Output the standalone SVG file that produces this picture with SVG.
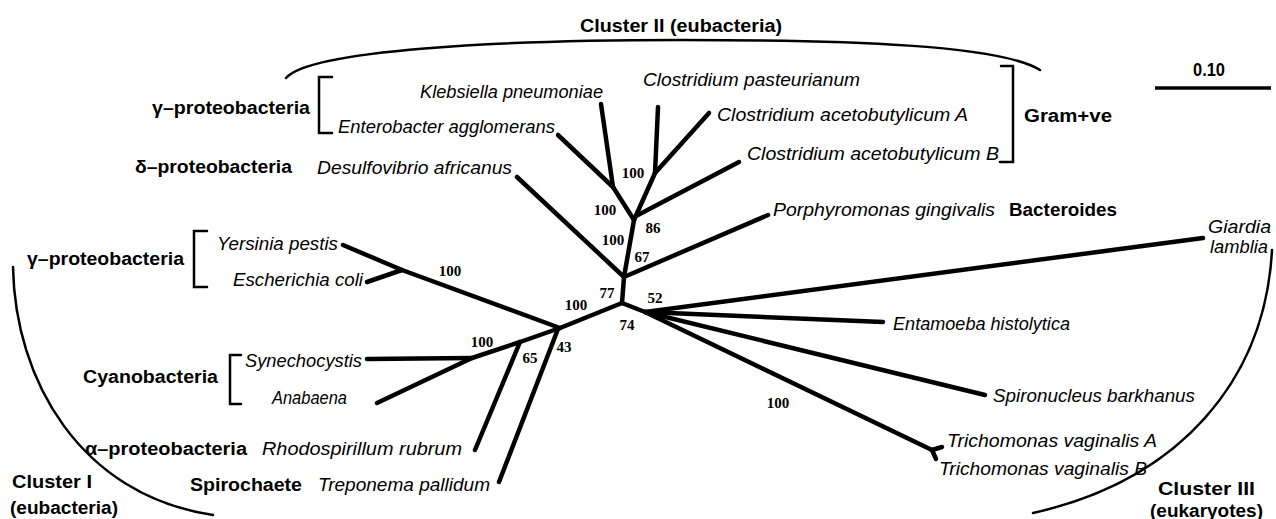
<svg xmlns="http://www.w3.org/2000/svg" width="1276" height="519" viewBox="0 0 1276 519">
<style>
.bg{fill:#ffffff}
.br{stroke:#000;stroke-width:4.5;stroke-linecap:round;fill:none}
.thin{stroke:#000;stroke-width:2.5;fill:none;stroke-linecap:round}
.sp{font-family:"Liberation Sans",Arial,sans-serif;font-style:italic;font-size:18px;fill:#000}
.grp{font-family:"Liberation Sans",Arial,sans-serif;font-weight:bold;font-size:18px;fill:#000}
.bs{font-family:"Liberation Serif","Times New Roman",serif;font-weight:bold;font-size:15px;fill:#000;text-anchor:middle}
</style>
<rect class="bg" x="0" y="0" width="1276" height="519"/>

<g id="clusters">
  <path class="thin" d="M286 78 C310 50 500 40 680 40 C850 40 1000 45 1040 70"/>
  <text class="grp" x="580" y="32" textLength="202" lengthAdjust="spacingAndGlyphs" font-size="19">Cluster II (eubacteria)</text>
  <path class="thin" d="M13 267 C15 380 80 495 213 515"/>
  <text class="grp" x="12" y="488" textLength="80" lengthAdjust="spacingAndGlyphs">Cluster I</text>
  <text class="grp" x="10" y="514" textLength="108" lengthAdjust="spacingAndGlyphs">(eubacteria)</text>
  <path class="thin" d="M1272 250 C1265 380 1180 480 1033 513"/>
  <text class="grp" x="1158" y="495" textLength="97" lengthAdjust="spacingAndGlyphs">Cluster III</text>
  <text class="grp" x="1150" y="517" textLength="113" lengthAdjust="spacingAndGlyphs">(eukaryotes)</text>
</g>

<g id="scale">
  <line x1="1155" y1="88" x2="1271" y2="88" stroke="#000" stroke-width="3.5"/>
  <text class="grp" x="1193" y="76" font-size="14" textLength="32" lengthAdjust="spacingAndGlyphs">0.10</text>
</g>

<g id="brackets">
  <path class="thin" d="M332 77 H319 V133 H332"/>
  <path class="thin" d="M207 231 H194 V287 H207"/>
  <path class="thin" d="M241 355 H230 V404 H241"/>
  <path class="thin" d="M1001 66 H1013 V162 H1000"/>
</g>

<g id="groups">
  <text class="grp" x="152" y="114" textLength="158" lengthAdjust="spacingAndGlyphs">γ–proteobacteria</text>
  <text class="grp" x="135" y="173" textLength="157" lengthAdjust="spacingAndGlyphs">δ–proteobacteria</text>
  <text class="grp" x="27" y="265" textLength="157" lengthAdjust="spacingAndGlyphs">γ–proteobacteria</text>
  <text class="grp" x="83" y="383" textLength="135" lengthAdjust="spacingAndGlyphs">Cyanobacteria</text>
  <text class="grp" x="85" y="455" textLength="162" lengthAdjust="spacingAndGlyphs">α–proteobacteria</text>
  <text class="grp" x="190" y="491" textLength="112" lengthAdjust="spacingAndGlyphs">Spirochaete</text>
  <text class="grp" x="1024" y="122" textLength="88" lengthAdjust="spacingAndGlyphs">Gram+ve</text>
  <text class="grp" x="1009" y="216" textLength="108" lengthAdjust="spacingAndGlyphs">Bacteroides</text>
</g>

<g id="connectors">
  <!-- cluster II -->
  <line class="br" x1="601" y1="104" x2="613" y2="187"/>
  <line class="br" x1="558" y1="135" x2="613" y2="187"/>
  <line class="br" x1="613" y1="187" x2="634" y2="220"/>
  <line class="br" x1="658" y1="107" x2="655" y2="173"/>
  <line class="br" x1="709" y1="113" x2="655" y2="173"/>
  <line class="br" x1="655" y1="173" x2="634" y2="220"/>
  <line class="br" x1="739" y1="162" x2="636" y2="216"/>
  <line class="br" x1="634" y1="220" x2="624" y2="277"/>
  <line class="br" x1="517" y1="177" x2="624" y2="277"/>
  <line class="br" x1="768" y1="215" x2="624" y2="277"/>
  <line class="br" x1="624" y1="277" x2="622" y2="303"/>
  <!-- cluster I -->
  <line class="br" x1="622" y1="303" x2="560" y2="328"/>
  <line class="br" x1="343" y1="245" x2="402" y2="270"/>
  <line class="br" x1="367" y1="282" x2="402" y2="270"/>
  <line class="br" x1="402" y1="270" x2="560" y2="328"/>
  <line class="br" x1="367" y1="359" x2="472" y2="358"/>
  <line class="br" x1="377" y1="403" x2="472" y2="358"/>
  <line class="br" x1="472" y1="358" x2="520" y2="342"/>
  <line class="br" x1="520" y1="342" x2="560" y2="328"/>
  <line class="br" x1="475" y1="450" x2="520" y2="342"/>
  <line class="br" x1="499" y1="482" x2="558" y2="329"/>
  <!-- cluster III -->
  <line class="br" x1="622" y1="303" x2="645" y2="312"/>
  <line class="br" x1="645" y1="312" x2="1203" y2="238"/>
  <line class="br" x1="645" y1="312" x2="883" y2="322"/>
  <line class="br" x1="645" y1="312" x2="985" y2="395"/>
  <line class="br" x1="645" y1="312" x2="932" y2="450"/>
  <line class="br" x1="932" y1="450" x2="942" y2="447"/>
  <line class="br" x1="932" y1="450" x2="936" y2="459"/>
</g>

<g id="bootstrap">
  <text class="bs" x="633" y="178">100</text>
  <text class="bs" x="605" y="215">100</text>
  <text class="bs" x="653" y="233">86</text>
  <text class="bs" x="613" y="245">100</text>
  <text class="bs" x="642" y="262">67</text>
  <text class="bs" x="450" y="276">100</text>
  <text class="bs" x="607" y="298">77</text>
  <text class="bs" x="655" y="303">52</text>
  <text class="bs" x="576" y="310">100</text>
  <text class="bs" x="627" y="330">74</text>
  <text class="bs" x="482" y="347">100</text>
  <text class="bs" x="564" y="352">43</text>
  <text class="bs" x="530" y="363">65</text>
  <text class="bs" x="778" y="408">100</text>
</g>

<g id="klebsiella"><text class="sp" x="420" y="98" textLength="183" lengthAdjust="spacingAndGlyphs">Klebsiella pneumoniae</text></g>
<g id="enterobacter"><text class="sp" x="338" y="133" textLength="217" lengthAdjust="spacingAndGlyphs">Enterobacter agglomerans</text></g>
<g id="desulfovibrio"><text class="sp" x="317" y="174" textLength="195" lengthAdjust="spacingAndGlyphs">Desulfovibrio africanus</text></g>
<g id="c-pasteurianum"><text class="sp" x="643" y="86" textLength="217" lengthAdjust="spacingAndGlyphs">Clostridium pasteurianum</text></g>
<g id="c-acetobutylicum-a"><text class="sp" x="717" y="121" textLength="251" lengthAdjust="spacingAndGlyphs">Clostridium acetobutylicum A</text></g>
<g id="c-acetobutylicum-b"><text class="sp" x="747" y="160" textLength="252" lengthAdjust="spacingAndGlyphs">Clostridium acetobutylicum B</text></g>
<g id="porphyromonas"><text class="sp" x="773" y="216" textLength="222" lengthAdjust="spacingAndGlyphs">Porphyromonas gingivalis</text></g>
<g id="giardia">
  <text class="sp" x="1208" y="233" textLength="63" lengthAdjust="spacingAndGlyphs">Giardia</text>
  <text class="sp" x="1210" y="253" textLength="58" lengthAdjust="spacingAndGlyphs">lamblia</text>
</g>
<g id="yersinia"><text class="sp" x="217" y="250" textLength="121" lengthAdjust="spacingAndGlyphs">Yersinia pestis</text></g>
<g id="ecoli"><text class="sp" x="233" y="286" textLength="130" lengthAdjust="spacingAndGlyphs">Escherichia coli</text></g>
<g id="synechocystis"><text class="sp" x="245" y="367" textLength="117" lengthAdjust="spacingAndGlyphs">Synechocystis</text></g>
<g id="anabaena"><text class="sp" x="272" y="404" textLength="75" lengthAdjust="spacingAndGlyphs">Anabaena</text></g>
<g id="rhodospirillum"><text class="sp" x="262" y="455" textLength="200" lengthAdjust="spacingAndGlyphs">Rhodospirillum rubrum</text></g>
<g id="treponema"><text class="sp" x="318" y="491" textLength="172" lengthAdjust="spacingAndGlyphs">Treponema pallidum</text></g>
<g id="entamoeba"><text class="sp" x="893" y="330" textLength="177" lengthAdjust="spacingAndGlyphs">Entamoeba histolytica</text></g>
<g id="spironucleus"><text class="sp" x="993" y="402" textLength="202" lengthAdjust="spacingAndGlyphs">Spironucleus barkhanus</text></g>
<g id="trichomonas-a"><text class="sp" x="947" y="447" textLength="210" lengthAdjust="spacingAndGlyphs">Trichomonas vaginalis A</text></g>
<g id="trichomonas-b"><text class="sp" x="939" y="475" textLength="208" lengthAdjust="spacingAndGlyphs">Trichomonas vaginalis B</text></g>
</svg>
